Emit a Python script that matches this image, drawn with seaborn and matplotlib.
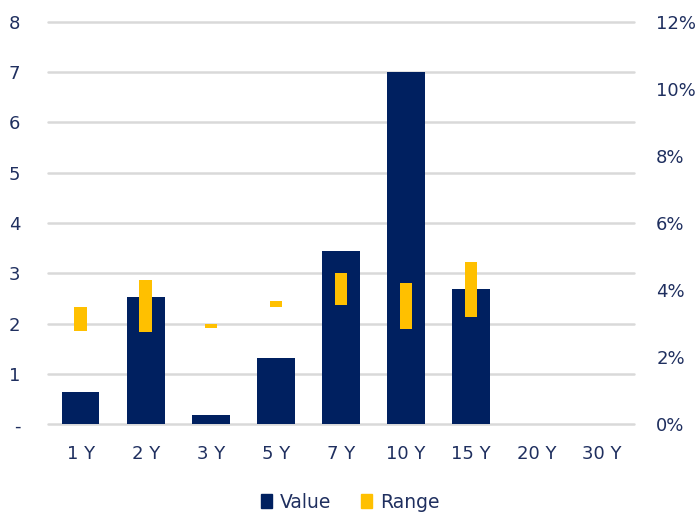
import numpy as np
import pandas as pd
import matplotlib
matplotlib.use("Agg")
import matplotlib.pyplot as plt
import seaborn as sns
from matplotlib.patches import Patch
from matplotlib.ticker import FuncFormatter

# 데이터
tenors = ["1 Y", "2 Y", "3 Y", "5 Y", "7 Y", "10 Y", "15 Y", "20 Y", "30 Y"]
values = [0.65, 2.53, 0.19, 1.31, 3.44, 7.0, 2.69, np.nan, np.nan]
range_low = [2.77, 2.74, 2.86, 3.49, 3.55, 2.84, 3.21, np.nan, np.nan]   # %
range_high = [3.49, 4.29, 3.00, 3.68, 4.51, 4.20, 4.84, np.nan, np.nan]  # %

NAVY = "#002060"
YELLOW = "#FFC000"
TEXT = "#1F2F5F"
GRID = "#D9D9D9"

sns.set_theme(style="white")
plt.rcParams["font.family"] = ["DejaVu Sans"]

df = pd.DataFrame({"tenor": tenors, "value": values,
                   "low": range_low, "high": range_high})

fig = plt.figure(figsize=(7, 5.15), dpi=100)
ax = fig.add_axes([0.0686, 0.176, 0.8371, 0.782])

sns.barplot(data=df, x="tenor", y="value", order=tenors, color=NAVY,
            width=0.58, saturation=1, linewidth=0, ax=ax, zorder=2)
ax.set_xlim(-0.5, len(tenors) - 0.5)
ax.set_ylim(0, 8)
ax.set_yticks(range(0, 9))
ax.yaxis.set_major_formatter(FuncFormatter(lambda v, p: "-" if v == 0 else f"{v:.0f}"))
ax.grid(axis="y", color=GRID, linewidth=1.8, zorder=0)
for gl in ax.get_ygridlines():
    gl.set_clip_on(False)
ax.set_axisbelow(True)
ax.set_xlabel("")
ax.set_ylabel("")
for s in ax.spines.values():
    s.set_visible(False)
ax.tick_params(axis="y", length=0, pad=20, labelsize=13, labelcolor=TEXT)
ax.tick_params(axis="x", length=0, pad=15, labelsize=13, labelcolor=TEXT)

# 범위 (오른쪽 축)
ax2 = ax.twinx()
pos = np.arange(len(tenors))
ax2.bar(pos, df["high"] - df["low"], bottom=df["low"], width=0.19,
        color=YELLOW, linewidth=0, zorder=3)
ax2.set_xlim(-0.5, len(tenors) - 0.5)
ax2.set_ylim(0, 12)
ax2.set_yticks(range(0, 13, 2))
ax2.yaxis.set_major_formatter(FuncFormatter(lambda v, p: f"{v:.0f}%"))
for s in ax2.spines.values():
    s.set_visible(False)
ax2.tick_params(axis="y", length=0, pad=16, labelsize=13, labelcolor=TEXT)
ax2.grid(False)

handles = [Patch(color=NAVY, label="Value"), Patch(color=YELLOW, label="Range")]
leg = fig.legend(handles=handles, loc="center", bbox_to_anchor=(0.5, 0.025),
                 ncol=2, frameon=False, fontsize=13.5, handlelength=0.6,
                 handleheight=0.8, handletextpad=0.4, columnspacing=1.6)
for t in leg.get_texts():
    t.set_color(TEXT)

fig.savefig("out.png", dpi=100)
